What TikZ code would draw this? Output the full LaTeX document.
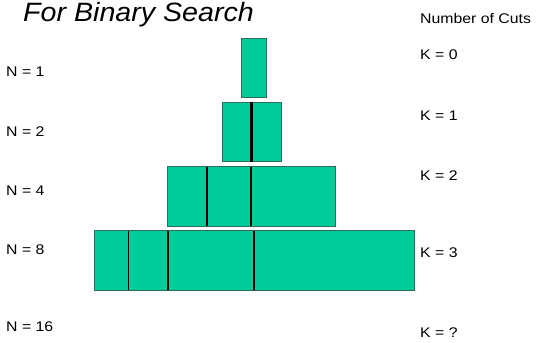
\documentclass[tikz,border=0pt]{standalone}
\usepackage{fontspec}
\setmainfont{Liberation Sans}
\usepackage{graphicx}
\definecolor{blockfill}{HTML}{00CC99}
\definecolor{blockedge}{HTML}{2E6B58}
\newcommand\wide[1]{\scalebox{1.13}[1]{#1}}
\begin{document}
\begin{tikzpicture}[x=1pt,y=-1pt,
  block/.style={fill=blockfill,draw=blockedge,line width=0.8pt},
  cut/.style={draw=black},
  lbl/.style={inner sep=0pt,anchor=base west,font=\fontsize{14}{16}\selectfont},
  ttl/.style={inner sep=0pt,anchor=base west,font=\fontsize{26.5}{30}\selectfont\itshape}]
\useasboundingbox (0,0) rectangle (537,342);

% title and column heading
\node[ttl] (title) at (23,21.7) {\scalebox{1.08}[1]{For Binary Search}};
\node[lbl] (head) at (420,23.3) {\wide{Number of Cuts}};

% array sizes
\node[lbl] (n1) at (6,77) {\wide{N = 1}};
\node[lbl] (n2) at (6,136) {\wide{N = 2}};
\node[lbl] (n4) at (6,195) {\wide{N = 4}};
\node[lbl] (n8) at (6,254) {\wide{N = 8}};
\node[lbl] (n16) at (6,331) {\wide{N = 16}};

% cut counts
\node[lbl] (k0) at (420,60) {\wide{K = 0}};
\node[lbl] (k1) at (420,121) {\wide{K = 1}};
\node[lbl] (k2) at (420,180) {\wide{K = 2}};
\node[lbl] (k3) at (420,257) {\wide{K = 3}};
\node[lbl] (kq) at (420,337) {\wide{K = ?}};

% blocks, each row halved once more
\draw[block] (241.3,38.3) rectangle (266.7,97.7);

\draw[block] (222,102.3) rectangle (281.7,161.7);
\draw[cut,line width=2.5pt] (251.3,102.3) -- (251.3,161.7);

\draw[block] (167.7,166.7) rectangle (335.7,226);
\draw[cut,line width=1.6pt] (207,166.7) -- (207,226);
\draw[cut,line width=2.3pt] (251.3,166.7) -- (251.3,226);

\draw[block] (94,230.7) rectangle (414.3,290);
\draw[cut,line width=1.1pt] (128.3,230.7) -- (128.3,290);
\draw[cut,line width=1.7pt] (167.7,230.7) -- (167.7,290);
\draw[cut,line width=2.3pt] (254,230.7) -- (254,290);
\end{tikzpicture}
\end{document}
